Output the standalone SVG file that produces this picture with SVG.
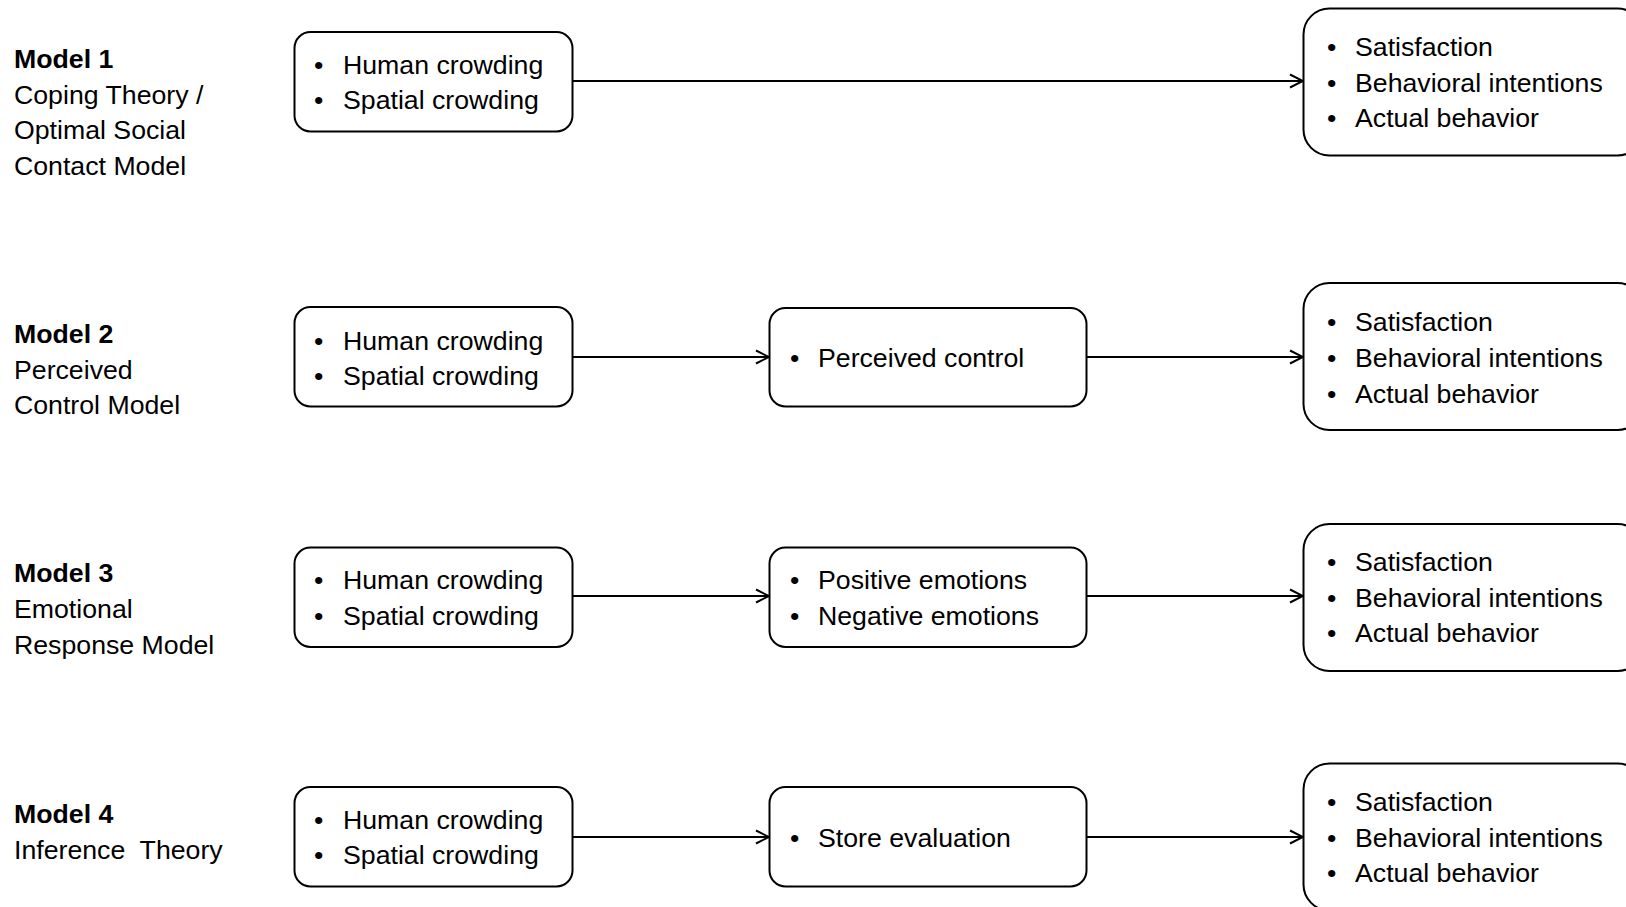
<svg xmlns="http://www.w3.org/2000/svg" width="1626" height="907" viewBox="0 0 1626 907">
<style>
text{font-family:"Liberation Sans",Arial,sans-serif;font-size:26.7px;fill:#000;white-space:pre}
.b{font-weight:bold}
.box{fill:#fff;stroke:#000;stroke-width:2}
.con{stroke:#000;stroke-width:2;fill:none}
</style>
<defs>
<marker id="ah" markerWidth="16" markerHeight="16" refX="14" refY="8" orient="auto" markerUnits="userSpaceOnUse">
<path d="M1,1.5 L14,8 L1,14.5" fill="none" stroke="#000" stroke-width="2"/>
</marker>
</defs>
<rect width="1626" height="907" fill="#fff"/>
<g id="connectors">
<line class="con" x1="572.5" y1="81" x2="1303" y2="81" marker-end="url(#ah)"/>
<line class="con" x1="572.5" y1="357" x2="769" y2="357" marker-end="url(#ah)"/>
<line class="con" x1="1087" y1="357" x2="1303" y2="357" marker-end="url(#ah)"/>
<line class="con" x1="572.5" y1="596" x2="769" y2="596" marker-end="url(#ah)"/>
<line class="con" x1="1087" y1="596" x2="1303" y2="596" marker-end="url(#ah)"/>
<line class="con" x1="572.5" y1="837" x2="769" y2="837" marker-end="url(#ah)"/>
<line class="con" x1="1087" y1="837" x2="1303" y2="837" marker-end="url(#ah)"/>
</g>
<g id="label1"><text x="14" y="68" class="b">Model 1</text><text x="14" y="103.5">Coping Theory /</text><text x="14" y="139">Optimal Social</text><text x="14" y="174.5">Contact Model</text></g>
<g id="label2"><text x="14" y="343" class="b">Model 2</text><text x="14" y="379">Perceived</text><text x="14" y="414">Control Model</text></g>
<g id="label3"><text x="14" y="582" class="b">Model 3</text><text x="14" y="618">Emotional</text><text x="14" y="653.5">Response Model</text></g>
<g id="label4"><text x="14" y="822.5" class="b">Model 4</text><text x="14" y="858.5">Inference  Theory</text></g>

<g id="r1a"><rect class="box" x="294.5" y="32" width="278" height="99.5" rx="16"/><text x="314" y="73.5">•</text><text x="343" y="73.5">Human crowding</text><text x="314" y="109">•</text><text x="343" y="109">Spatial crowding</text></g>
<g id="r1c"><rect class="box" x="1303.5" y="8.5" width="340" height="147" rx="26"/><text x="1327" y="56">•</text><text x="1355" y="56">Satisfaction</text><text x="1327" y="91.5">•</text><text x="1355" y="91.5">Behavioral intentions</text><text x="1327" y="127">•</text><text x="1355" y="127">Actual behavior</text></g>

<g id="r2a"><rect class="box" x="294.5" y="307" width="278" height="99.5" rx="16"/><text x="314" y="349.5">•</text><text x="343" y="349.5">Human crowding</text><text x="314" y="385">•</text><text x="343" y="385">Spatial crowding</text></g>
<g id="r2b"><rect class="box" x="769.5" y="308" width="317" height="98.5" rx="16"/><text x="790" y="367">•</text><text x="818" y="367">Perceived control</text></g>
<g id="r2c"><rect class="box" x="1303.5" y="283" width="340" height="147" rx="26"/><text x="1327" y="331">•</text><text x="1355" y="331">Satisfaction</text><text x="1327" y="367">•</text><text x="1355" y="367">Behavioral intentions</text><text x="1327" y="402.5">•</text><text x="1355" y="402.5">Actual behavior</text></g>

<g id="r3a"><rect class="box" x="294.5" y="547.5" width="278" height="99.5" rx="16"/><text x="314" y="589">•</text><text x="343" y="589">Human crowding</text><text x="314" y="624.5">•</text><text x="343" y="624.5">Spatial crowding</text></g>
<g id="r3b"><rect class="box" x="769.5" y="547.5" width="317" height="99.5" rx="16"/><text x="790" y="589">•</text><text x="818" y="589">Positive emotions</text><text x="790" y="624.5">•</text><text x="818" y="624.5">Negative emotions</text></g>
<g id="r3c"><rect class="box" x="1303.5" y="524" width="340" height="147" rx="26"/><text x="1327" y="570.5">•</text><text x="1355" y="570.5">Satisfaction</text><text x="1327" y="606.5">•</text><text x="1355" y="606.5">Behavioral intentions</text><text x="1327" y="642">•</text><text x="1355" y="642">Actual behavior</text></g>

<g id="r4a"><rect class="box" x="294.5" y="787" width="278" height="99.5" rx="16"/><text x="314" y="828.5">•</text><text x="343" y="828.5">Human crowding</text><text x="314" y="864">•</text><text x="343" y="864">Spatial crowding</text></g>
<g id="r4b"><rect class="box" x="769.5" y="787" width="317" height="99.5" rx="16"/><text x="790" y="846.5">•</text><text x="818" y="846.5">Store evaluation</text></g>
<g id="r4c"><rect class="box" x="1303.5" y="763.5" width="340" height="147" rx="26"/><text x="1327" y="811">•</text><text x="1355" y="811">Satisfaction</text><text x="1327" y="846.5">•</text><text x="1355" y="846.5">Behavioral intentions</text><text x="1327" y="881.5">•</text><text x="1355" y="881.5">Actual behavior</text></g>
</svg>
